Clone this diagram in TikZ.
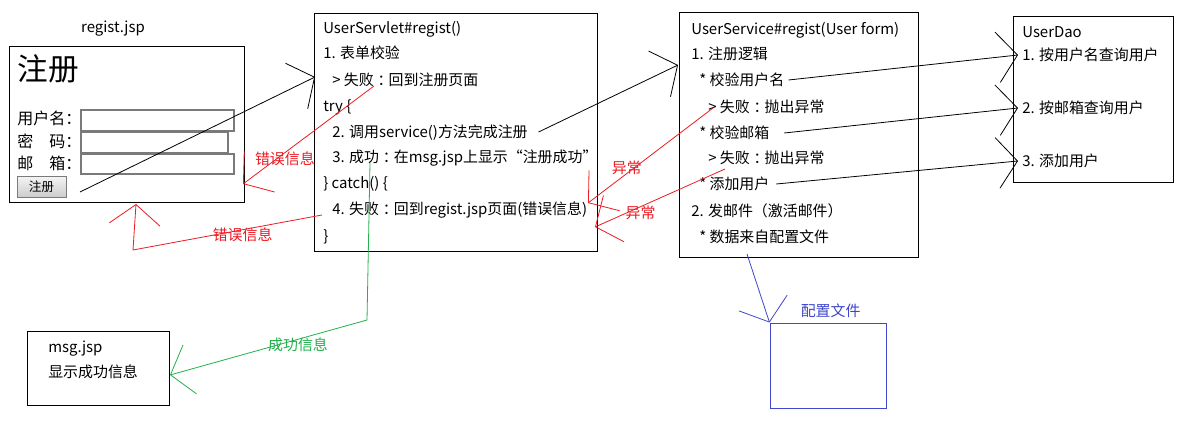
\documentclass[tikz,border=0pt]{standalone}
\usepackage{fontspec}
\setmainfont{Noto Sans CJK SC}
\usetikzlibrary{arrows.meta,positioning}
\definecolor{paintred}{RGB}{237,28,36}
\definecolor{paintgreen}{RGB}{34,177,76}
\definecolor{paintblue}{RGB}{63,72,204}
\definecolor{fieldgray}{RGB}{122,122,122}
\newcommand\fwcolon{\hspace{0.25em}：\hspace{-0.25em}}

\begin{document}
\begin{tikzpicture}[x=0.75pt,y=-0.75pt]\fontsize{11.2}{13}\selectfont
  \tikzset{>={Straight Barb[length=15pt,width=38pt]},
    box/.style={draw,line width=0.75pt,inner sep=0pt},
    ln/.style={anchor=west,inner xsep=3pt,inner ysep=0pt,text height=8.5pt,text depth=0pt},
    tag/.style={inner sep=0pt,text height=8.5pt,text depth=0pt},
    field/.style={draw=fieldgray,line width=1pt,inner sep=0pt,minimum height=15.75pt},
    wire/.style={->,line width=0.6pt}}
  \fill[white] (0,0) rectangle (1180,428);
  % boxes
  \node[box,minimum width=176.25pt,minimum height=116.25pt] (jsp) at (126.5,124.5) {};
  \node[box,minimum width=212.25pt,minimum height=177.75pt] (srv) at (455.5,132.5) {};
  \node[box,minimum width=179.25pt,minimum height=183pt] (svc) at (798.5,135) {};
  \node[box,minimum width=120pt,minimum height=123.75pt] (dao) at (1093,99.5) {};
  \node[box,minimum width=106.5pt,minimum height=55.5pt] (msg) at (98,368) {};
  \node[box,draw=paintblue,minimum width=87pt,minimum height=63.75pt] (cfg) at (828,365.5) {};
  % regist.jsp
  \node[tag] (jspname) at (113,27) {regist.jsp};
  \node[font=\fontsize{23}{23}\selectfont] (title) at (48,69) {注册};
  \node[ln,font=\fontsize{12}{14}\selectfont] (lbname) at (13,119) {用户名：};
  \node[ln,font=\fontsize{12}{14}\selectfont] (lbpass) at (13,142) {密\hspace{1em}码：};
  \node[ln,font=\fontsize{12}{14}\selectfont] (lbmail) at (13,164) {邮\hspace{1em}箱：};
  \node[field,minimum width=114.75pt] (fname) at (157.5,120.5) {};
  \node[field,minimum width=110.25pt] (fpass) at (154.5,142.5) {};
  \node[field,minimum width=114.75pt,minimum height=15pt] (fmail) at (157.5,164) {};
  \node[draw=fieldgray,top color=black!4,bottom color=black!20,minimum width=36.75pt,
    minimum height=15.75pt,inner sep=0pt,font=\fontsize{9.5}{10}\selectfont] (btn) at (41.5,186.5) {注册};
  % UserServlet
  \node[ln] (sl0) at (319,28) {UserServlet\#regist()};
  \node[ln] (sl1) at (319,53) {1. 表单校验};
  \node[ln] (sl2) at (328,80) {> 失败\fwcolon 回到注册页面};
  \node[ln] (sl3) at (319,106) {try \{};
  \node[ln] (sl4) at (328,132) {2. 调用service()方法完成注册};
  \node[ln] (sl5) at (328,157) {3. 成功\fwcolon 在msg.jsp上显示“注册成功”};
  \node[ln] (sl6) at (319,183) {\} catch() \{};
  \node[ln] (sl7) at (328,209) {4. 失败\fwcolon 回到regist.jsp页面(错误信息)};
  \node[ln] (sl8) at (319,236) {\}};
  % UserService
  \node[ln] (vl0) at (687,29) {UserService\#regist(User form)};
  \node[ln] (vl1) at (687,54) {1. 注册逻辑};
  \node[ln] (vl2) at (695,80) {* 校验用户名};
  \node[ln] (vl3) at (704,107) {> 失败\fwcolon 抛出异常};
  \node[ln] (vl4) at (695,133) {* 校验邮箱};
  \node[ln] (vl5) at (704,158) {> 失败\fwcolon 抛出异常};
  \node[ln] (vl6) at (695,184) {* 添加用户};
  \node[ln] (vl7) at (687,211) {2. 发邮件（激活邮件）};
  \node[ln] (vl8) at (695,237) {* 数据来自配置文件};
  % UserDao
  \node[ln] (dl0) at (1018,32) {UserDao};
  \node[ln] (dl1) at (1018,55) {1. 按用户名查询用户};
  \node[ln] (dl2) at (1018,108) {2. 按邮箱查询用户};
  \node[ln] (dl3) at (1018,161) {3. 添加用户};
  % msg.jsp and config
  \node[ln] (ml0) at (44,347) {msg.jsp};
  \node[ln] (ml1) at (44,372) {显示成功信息};
  \node[tag,paintblue,above=4pt of cfg,xshift=2pt] (cfgname) {配置文件};
  % free ends
  \coordinate (submit) at (80,192);
  \coordinate (srvin) at (315,77);
  \coordinate (svcin) at (678,65);
  \coordinate (failout) at (374,86);
  \coordinate (jspin1) at (243,184);
  \coordinate (catchout) at (322,215);
  \coordinate (bend1) at (133,250);
  \coordinate (jspin2) at (136,204);
  \coordinate (okout) at (370,163);
  \coordinate (turn) at (367,320);
  \coordinate (msgin) at (170,375);
  \coordinate (thr1) at (713,108);
  \coordinate (catchin1) at (588,203);
  \coordinate (thr2) at (725,169);
  \coordinate (catchin2) at (595,227);
  \coordinate (cfgout) at (747,254);
  % connectors
  \draw[wire] (submit) -- (srvin);
  \draw[wire] ([xshift=5pt]sl4.east) -- (svcin);
  \draw[wire] (vl2.east) -- (dl1.west);
  \draw[wire] ([xshift=8pt]vl4.east) -- (dl2.west);
  \draw[wire] ([xshift=2pt]vl6.east) -- (dl3.west);
  \draw[wire,paintred] (failout) -- node[pos=0.68,below,tag] {错误信息} (jspin1);
  \draw[wire,paintred] (catchout) -- node[pos=0.42,yshift=-4pt,tag] {错误信息} (bend1) -- (jspin2);
  \draw[wire,paintgreen] (okout) -- (turn) -- node[pos=0.35,below,tag] {成功信息} (msgin);
  \draw[wire,paintred] (thr1) -- node[pos=0.69,above,tag] {异常} (catchin1);
  \draw[wire,paintred] (thr2) -- node[pos=0.65,below,tag] {异常} (catchin2);
  \draw[wire,paintblue] (cfgout) -- (cfg.north west);
\end{tikzpicture}
\end{document}
